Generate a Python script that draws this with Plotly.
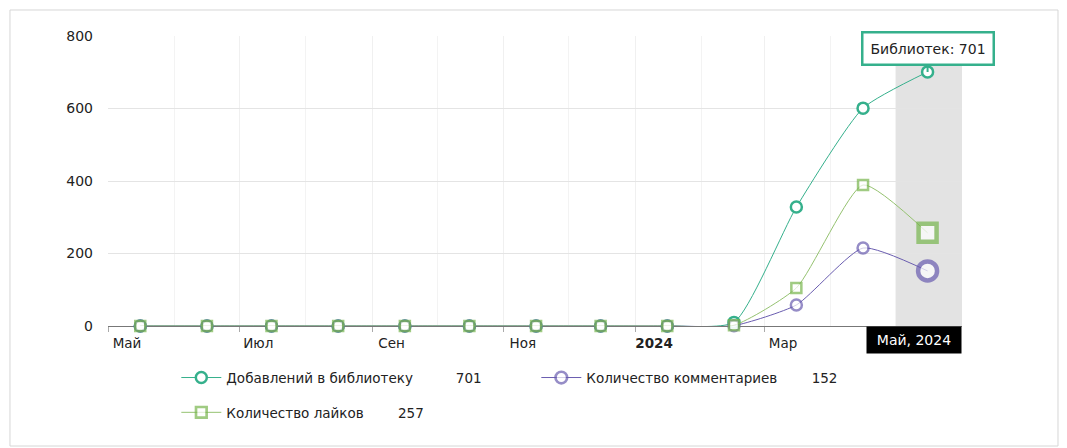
import plotly.graph_objects as go

dates = ["2023-05-16", "2023-06-16", "2023-07-16", "2023-08-16", "2023-09-16",
         "2023-10-16", "2023-11-16", "2023-12-16", "2024-01-16", "2024-02-16",
         "2024-03-16", "2024-04-16", "2024-05-16"]
library = [0, 0, 0, 0, 0, 0, 0, 0, 0, 10, 328, 601, 701]
comments = [0, 0, 0, 0, 0, 0, 0, 0, 0, 1, 58, 215, 152]
likes = [0, 0, 0, 0, 0, 0, 0, 0, 0, 2, 105, 389, 257]

names = ["Добавлений в библиотеку", "Количество комментариев", "Количество лайков"]
totals = [701, 152, 257]

tick_vals = ["2023-05-01", "2023-07-01", "2023-09-01", "2023-11-01", "2024-01-01", "2024-03-01"]
tick_text = ["Май", "Июл", "Сен", "Ноя", "<b>2024</b>", "Мар"]
y_ticks = [0, 200, 400, 600, 800]

TEAL = "#35b08c"
PURPLE = "#6a5db0"
GREEN = "#78b64e"
FONT = "DejaVu Sans"
NB = "\u00a0"

fig = go.Figure()

n = len(dates)
def sizes(big, small):
    return [small] * (n - 1) + [big]

fig.add_trace(go.Scatter(
    x=dates, y=library, mode="lines+markers", name=f"{names[0]}{NB * 10}{totals[0]}",
    line=dict(color=TEAL, width=1, shape="spline", smoothing=0.55),
    marker=dict(symbol="circle", size=11, color="white", line=dict(color=TEAL, width=2.5)),
    legend="legend", cliponaxis=False,
))
fig.add_trace(go.Scatter(
    x=dates, y=comments, mode="lines+markers", name=f"{names[1]}{NB * 8}{totals[1]}",
    line=dict(color=PURPLE, width=1, shape="spline", smoothing=0.55),
    marker=dict(symbol="circle", size=sizes(19, 11), color="white",
                line=dict(color=PURPLE, width=sizes(4.5, 2.5))),
    legend="legend", cliponaxis=False,
))
fig.add_trace(go.Scatter(
    x=dates, y=likes, mode="lines+markers", name=f"{names[2]}{NB * 8}{totals[2]}",
    line=dict(color="#95c270", width=1, shape="spline", smoothing=0.55),
    marker=dict(symbol="square", size=sizes(18, 10), color="white",
                line=dict(color=GREEN, width=sizes(4.5, 2.5))),
    legend="legend2", cliponaxis=False,
))

# highlighted period
fig.add_vrect(x0="2024-05-01", x1="2024-06-01", fillcolor="#e3e3e3", opacity=1,
              layer="below", line_width=0)

# outer frame
fig.add_shape(type="rect", xref="paper", yref="paper",
              x0=-0.1148, x1=1.1124, y0=-0.4138, y1=1.0897,
              line=dict(color="#d6d6d6", width=1), fillcolor="rgba(0,0,0,0)")

# tooltip
fig.add_annotation(x=dates[-1], y=library[-1], text="Библиотек: 701",
                   showarrow=True, arrowhead=0, arrowwidth=2, arrowcolor=TEAL,
                   ax=0, ay=-23, bgcolor="white", bordercolor=TEAL, borderwidth=2.5,
                   borderpad=7, font=dict(family=FONT, size=14, color="#222"))

# axis cursor label
fig.add_annotation(x="2024-06-01", y=0, yref="y", text="Май, 2024", showarrow=False,
                   xanchor="right", yanchor="top", bgcolor="black", borderpad=5,
                   width=84, height=16,
                   font=dict(family=FONT, size=14, color="white"))

leg_common = dict(orientation="h", xanchor="left", yanchor="top",
                  entrywidth=305, font=dict(family=FONT, size=13.5, color="#222"),
                  itemwidth=40, bgcolor="rgba(0,0,0,0)")

fig.update_layout(
    width=1067, height=448,
    margin=dict(l=108, r=105, t=36, b=122),
    paper_bgcolor="white", plot_bgcolor="white",
    font=dict(family=FONT, size=13, color="#222"),
    showlegend=True,
    legend=dict(x=0.08, y=-0.125, **leg_common),
    legend2=dict(x=0.08, y=-0.245, **leg_common),
    hovermode=False,
)
fig.update_xaxes(
    range=["2023-05-01", "2024-06-01"],
    tickvals=tick_vals, ticktext=tick_text, ticklabelshift=19,
    showgrid=True, gridcolor="#f0f0f0", gridwidth=1,
    ticks="outside", ticklen=5, tickcolor="#aaaaaa",
    showline=False, zeroline=False,
    tickfont=dict(family=FONT, size=13.5, color="#222"),
    minor=dict(showgrid=True, gridcolor="#f3f3f3", dtick="M1", tick0="2023-05-01"),
)
fig.update_yaxes(
    range=[0, 800], tickvals=y_ticks,
    showgrid=True, gridcolor="#e4e4e4", gridwidth=1,
    zeroline=True, zerolinecolor="#777777", zerolinewidth=1,
    ticks="", ticklabelstandoff=14,
    tickfont=dict(family=FONT, size=14, color="#222"),
)

fig.write_html("out.html", config={"displayModeBar": False},
               post_script="document.body.style.margin='0';document.body.style.overflow='hidden';")
